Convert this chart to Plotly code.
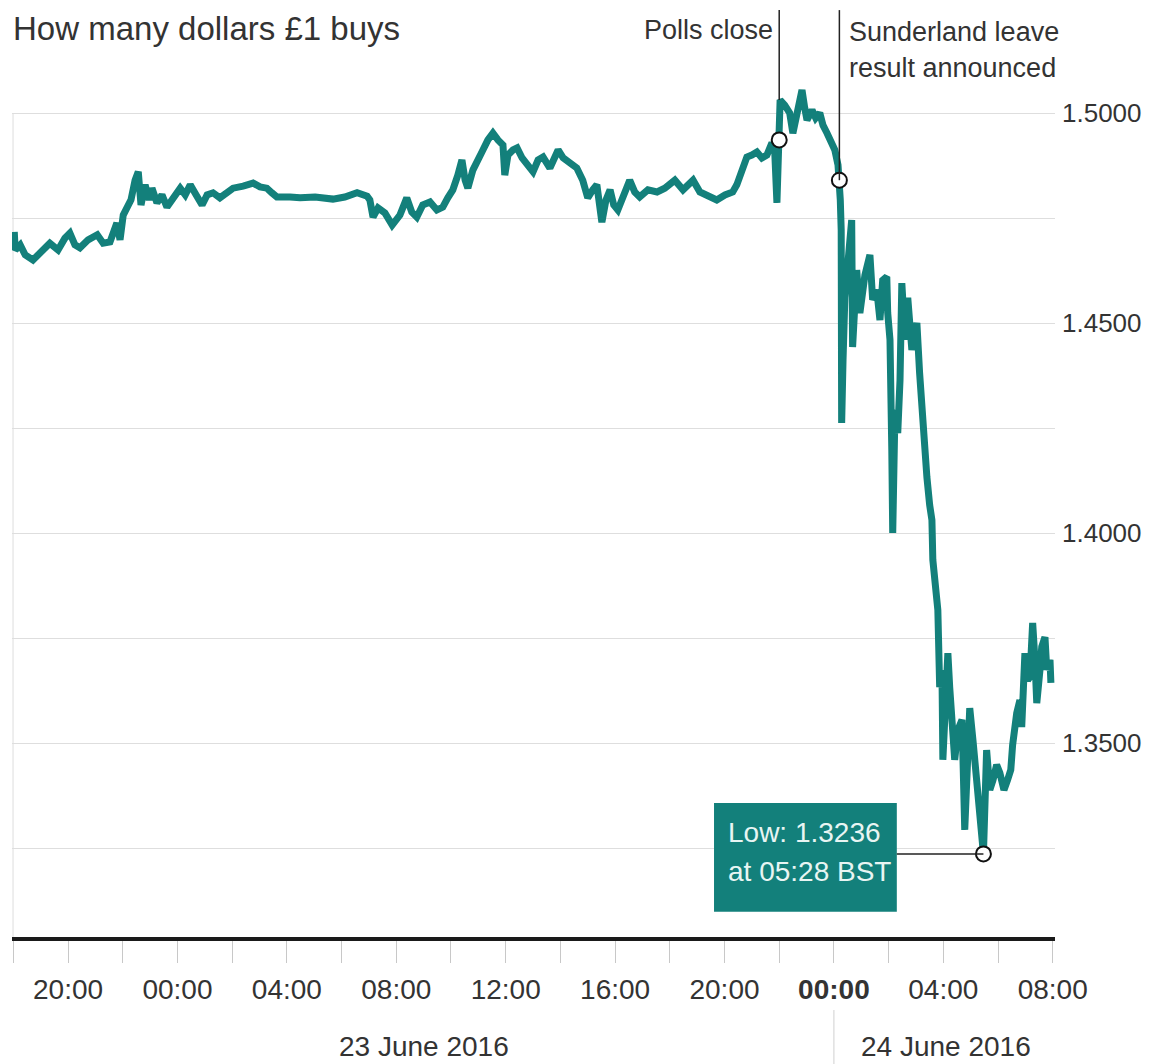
import pandas as pd
import plotly.graph_objects as go

# ---------------- data ----------------
times_22 = ["18:02", "18:04", "18:15", "18:26", "18:43", "18:59", "19:20", "19:38", "19:53",
            "20:04", "20:15", "20:26", "20:44", "21:04", "21:17", "21:32", "21:43", "21:47",
            "21:54", "22:01", "22:09", "22:18", "22:27", "22:34", "22:40", "22:49", "22:58",
            "23:04", "23:15", "23:26", "23:37", "23:50"]
rates_22 = [1.4717, 1.4674, 1.4686, 1.4662, 1.4650, 1.4669, 1.4690, 1.4674, 1.4702,
            1.4714, 1.4686, 1.4679, 1.4698, 1.4710, 1.4690, 1.4693, 1.4721, 1.4738,
            1.4698, 1.4757, 1.4774, 1.4793, 1.4840, 1.4860, 1.4781, 1.4829, 1.4793,
            1.4821, 1.4786, 1.4805, 1.4776, 1.4798]

times_23 = ["00:06", "00:17", "00:28", "00:41", "00:54", "01:05", "01:18", "01:33", "01:49",
            "02:02", "02:24", "02:46", "03:01", "03:16", "03:27", "03:38", "04:07", "04:29",
            "05:02", "05:41", "06:07", "06:34", "06:56", "07:02", "07:09", "07:20", "07:35",
            "07:51", "08:08", "08:23", "08:34", "08:45", "08:58", "09:14", "09:29", "09:42",
            "09:53", "10:04", "10:15", "10:24", "10:31", "10:37", "10:48", "10:59", "11:10",
            "11:21", "11:32", "11:43", "11:54", "11:58", "12:05", "12:16", "12:25", "12:36",
            "12:49", "13:00", "13:11", "13:22", "13:37", "13:46", "13:55", "14:06", "14:21",
            "14:36", "14:49", "15:00", "15:11", "15:20", "15:31", "15:40", "15:49", "15:57",
            "16:06", "16:19", "16:32", "16:43", "16:54", "17:12", "17:32", "17:49", "18:11",
            "18:29", "18:40", "18:51", "19:06", "19:21", "19:32", "19:43", "20:01", "20:18",
            "20:27", "20:34", "20:42", "20:49", "21:00", "21:11", "21:22", "21:33", "21:44",
            "21:50", "21:55", "21:57", "22:00", "22:02", "22:12", "22:23", "22:30", "22:39",
            "22:50", "22:56", "23:01", "23:12", "23:20", "23:29", "23:36", "23:45", "23:53"]
rates_23 = [1.4821, 1.4805, 1.4829, 1.4805, 1.4781, 1.4805, 1.4810, 1.4798, 1.4812,
            1.4821, 1.4826, 1.4833, 1.4824, 1.4821, 1.4810, 1.4800, 1.4800, 1.4798,
            1.4800, 1.4795, 1.4800, 1.4810, 1.4802, 1.4793, 1.4752, 1.4774, 1.4762,
            1.4733, 1.4757, 1.4798, 1.4764, 1.4752, 1.4781, 1.4788, 1.4769, 1.4776,
            1.4798, 1.4817, 1.4852, 1.4888, 1.4840, 1.4821, 1.4864, 1.4893, 1.4912,
            1.4936, 1.4952, 1.4936, 1.4924, 1.4852, 1.4900, 1.4912, 1.4917, 1.4893,
            1.4876, 1.4860, 1.4888, 1.4895, 1.4869, 1.4888, 1.4912, 1.4893, 1.4881,
            1.4869, 1.4840, 1.4798, 1.4817, 1.4829, 1.4740, 1.4793, 1.4817, 1.4781,
            1.4769, 1.4805, 1.4840, 1.4812, 1.4800, 1.4817, 1.4812, 1.4821, 1.4840,
            1.4817, 1.4829, 1.4840, 1.4812, 1.4805, 1.4798, 1.4793, 1.4805, 1.4812,
            1.4829, 1.4848, 1.4876, 1.4895, 1.4900, 1.4907, 1.4893, 1.4900, 1.4929,
            1.4912, 1.4786, 1.4912, 1.4936, 1.5031, 1.5019, 1.5000, 1.4952, 1.4995,
            1.5055, 1.5012, 1.4983, 1.5007, 1.4988, 1.5000, 1.4971, 1.4952, 1.4936]

times_24 = ["00:02", "00:09", "00:12", "00:14", "00:16", "00:17", "00:20", "00:24", "00:28",
            "00:39", "00:41", "00:50", "00:57", "01:08", "01:19", "01:25", "01:34", "01:41",
            "01:47", "01:56", "01:58", "02:03", "02:07", "02:09", "02:14", "02:20", "02:25",
            "02:29", "02:36", "02:42", "02:51", "03:02", "03:08", "03:15", "03:24", "03:30",
            "03:35", "03:37", "03:44", "03:48", "03:52", "03:57", "03:59", "04:05", "04:10",
            "04:14", "04:19", "04:25", "04:32", "04:41", "04:47", "04:52", "04:58", "05:05",
            "05:13", "05:20", "05:28", "05:35", "05:42", "05:49", "05:57", "06:04", "06:13",
            "06:21", "06:28", "06:32", "06:37", "06:41", "06:48", "06:52", "06:59", "07:05",
            "07:10", "07:16", "07:21", "07:25", "07:32", "07:36", "07:43", "07:47", "07:54",
            "07:56"]
rates_24 = [1.4912, 1.4876, 1.4840, 1.4793, 1.4721, 1.4262, 1.4412, 1.4560, 1.4626,
            1.4745, 1.4443, 1.4626, 1.4524, 1.4614, 1.4662, 1.4555, 1.4579, 1.4507,
            1.4602, 1.4610, 1.4524, 1.4460, 1.4198, 1.4000, 1.4293, 1.4238, 1.4364,
            1.4595, 1.4460, 1.4560, 1.4436, 1.4500, 1.4381, 1.4252, 1.4133, 1.4067,
            1.4031, 1.3936, 1.3864, 1.3817, 1.3633, 1.3674, 1.3460, 1.3626, 1.3714,
            1.3633, 1.3531, 1.3460, 1.3531, 1.3555, 1.3293, 1.3460, 1.3583, 1.3507,
            1.3395, 1.3333, 1.3236, 1.3483, 1.3388, 1.3412, 1.3448, 1.3429, 1.3388,
            1.3412, 1.3436, 1.3495, 1.3543, 1.3571, 1.3602, 1.3538, 1.3714, 1.3650,
            1.3657, 1.3786, 1.3698, 1.3595, 1.3674, 1.3729, 1.3752, 1.3674, 1.3698,
            1.3643]

event_labels = ["Polls close", "Sunderland leave", "result announced"]
event_times = ["2016-06-23 22:00", "2016-06-24 00:12"]
event_rates = [1.4936, 1.4840]

low_time = "2016-06-24 05:28"
low_rate = 1.3236
low_text = ["Low: 1.3236", "at 05:28 BST"]

title_text = "How many dollars £1 buys"
date_labels = ["23 June 2016", "24 June 2016"]
date_centres = ["2016-06-23 09:00", "2016-06-24 04:05"]

y_tick_vals = [1.325, 1.35, 1.375, 1.40, 1.425, 1.45, 1.475, 1.50]
y_tick_text = ["", "1.3500", "", "1.4000", "", "1.4500", "", "1.5000"]

x_start, x_end = "2016-06-22 17:57", "2016-06-24 08:05"
y_low, y_high = 1.30381, 1.525

# ---------------- build ----------------
ts = ([pd.Timestamp("2016-06-22 " + t) for t in times_22]
      + [pd.Timestamp("2016-06-23 " + t) for t in times_23]
      + [pd.Timestamp("2016-06-24 " + t) for t in times_24])
rates = rates_22 + rates_23 + rates_24

x_ticks = pd.date_range("2016-06-22 18:00", "2016-06-24 08:00", freq="2h")
x_text = []
for t in x_ticks:
    if t.hour % 4 != 0:
        x_text.append("")
    elif t == pd.Timestamp("2016-06-24 00:00"):
        x_text.append("<b>00:00</b>")
    else:
        x_text.append(t.strftime("%H:%M"))

TEAL = "#13807b"
TXT = "#333333"
FONT = "Liberation Sans, Arial, Helvetica, sans-serif"

fig = go.Figure()

# annotation leader lines
fig.add_shape(type="line", xref="x", yref="y", x0=event_times[0], x1=event_times[0],
              y0=1.5031, y1=1.5245, line=dict(color="#222", width=1.5), layer="above")
fig.add_shape(type="line", xref="x", yref="y", x0=event_times[1], x1=event_times[1],
              y0=event_rates[1], y1=1.5245, line=dict(color="#222", width=1.5), layer="above")
# left border line
fig.add_shape(type="line", xref="paper", yref="y", x0=0.001, x1=0.001,
              y0=y_low, y1=1.5, line=dict(color="#dddddd", width=1), layer="below")

fig.add_trace(go.Scatter(x=ts, y=rates, mode="lines",
                         line=dict(color=TEAL, width=7), hoverinfo="skip",
                         showlegend=False))

# low box
fig.add_shape(type="rect", xref="x", yref="y", x0="2016-06-23 19:37", x1="2016-06-24 02:18",
              y0=1.3098, y1=1.3357, fillcolor=TEAL, line=dict(width=0), layer="above")
fig.add_shape(type="line", xref="x", yref="y", x0="2016-06-24 02:18", x1=low_time,
              y0=low_rate, y1=low_rate, line=dict(color="#222", width=1.5), layer="above")

fig.add_trace(go.Scatter(x=event_times + [low_time], y=event_rates + [low_rate],
                         mode="markers", hoverinfo="skip", showlegend=False,
                         marker=dict(size=15, color="white",
                                     line=dict(color="#111", width=2))))

ann = []
ann.append(dict(text=title_text, xref="paper", yref="paper", x=0, xshift=-1,
                y=1.0, yshift=0, xanchor="left", yanchor="top", showarrow=False,
                font=dict(size=33, color=TXT, family=FONT)))
ann.append(dict(text=event_labels[0], xref="x", yref="y", x=event_times[0], xshift=-4,
                y=1.5198, xanchor="right", yanchor="middle", showarrow=False,
                font=dict(size=27, color=TXT, family=FONT)))
ann.append(dict(text=event_labels[1], xref="x", yref="y", x=event_times[1], xshift=8,
                y=1.5193, xanchor="left", yanchor="middle", showarrow=False,
                font=dict(size=27, color=TXT, family=FONT)))
ann.append(dict(text=event_labels[2], xref="x", yref="y", x=event_times[1], xshift=8,
                y=1.5107, xanchor="left", yanchor="middle", showarrow=False,
                font=dict(size=27, color=TXT, family=FONT)))
ann.append(dict(text=low_text[0], xref="x", yref="y", x="2016-06-23 20:03",
                y=1.3288, xanchor="left", yanchor="middle", showarrow=False,
                font=dict(size=28, color="#e8f5f3", family=FONT)))
ann.append(dict(text=low_text[1], xref="x", yref="y", x="2016-06-23 20:03",
                y=1.3195, xanchor="left", yanchor="middle", showarrow=False,
                font=dict(size=28, color="#e8f5f3", family=FONT)))
for lab, c in zip(date_labels, date_centres):
    ann.append(dict(text=lab, xref="x", yref="paper", x=c, y=-0.1184,
                    xanchor="center", yanchor="middle", showarrow=False,
                    font=dict(size=28, color=TXT, family=FONT)))

fig.add_shape(type="line", xref="x", yref="paper", x0="2016-06-24 00:00", x1="2016-06-24 00:00",
              y0=-0.0786, y1=-0.137, line=dict(color="#d0d0d0", width=1))

fig.update_layout(
    width=1147, height=1056,
    margin=dict(l=4, r=100, t=0, b=127, autoexpand=False),
    paper_bgcolor="white", plot_bgcolor="white",
    font=dict(family=FONT, color=TXT),
    annotations=ann,
    xaxis=dict(range=[x_start, x_end], type="date", tickmode="array",
               tickvals=list(x_ticks), ticktext=x_text, showgrid=False,
               showline=True, linecolor="#1a1a1a", linewidth=4,
               ticks="outside", ticklen=22, tickcolor="#c8c8c8", tickwidth=1,
               tickfont=dict(size=28, color=TXT, family=FONT),
               ticklabelstandoff=2, zeroline=False, fixedrange=True,
               automargin=False),
    yaxis=dict(range=[y_low, y_high], side="right", tickmode="array",
               tickvals=y_tick_vals, ticktext=y_tick_text, showgrid=True,
               gridcolor="#dedede", gridwidth=1, ticks="", showline=False,
               zeroline=False, tickfont=dict(size=26, color=TXT, family=FONT),
               ticklabelstandoff=6, fixedrange=True, automargin=False),
)

fig.write_html("out.html")
